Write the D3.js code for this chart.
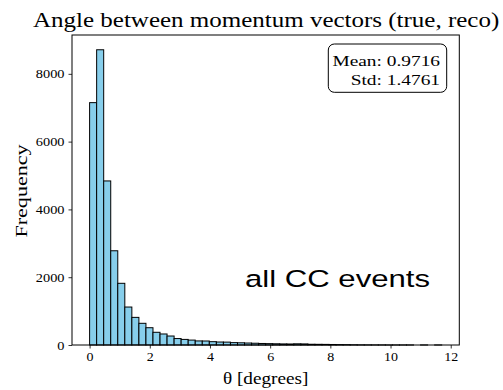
<!DOCTYPE html>
<html>
<head>
<meta charset="utf-8">
<script src="https://cdn.jsdelivr.net/npm/d3@7"></script>
<style>
  body { margin: 0; background: #fff; }
  svg { display: block; }
  .serif { font-family: "Liberation Serif", "DejaVu Serif", serif; }
</style>
</head>
<body>
<svg id="chart" width="503" height="390"></svg>
<script>
// ---- data ----
const binStart = 0;
const binEnd = 11.7;
const counts = [
  7150, 8710, 4840, 2780, 1820, 1120, 815, 640, 510, 375,
  325, 265, 190, 165, 145, 120, 118, 98, 88, 85,
  70, 65, 58, 52, 45, 40, 36, 32, 30, 35,
  32, 22, 20, 18, 15, 12, 10, 6, 4, 3,
  2, 2, 1, 1, 1, 1, 0, 1, 0, 1
];
const xTicks = [0, 2, 4, 6, 8, 10, 12];
const yTicks = [0, 2000, 4000, 6000, 8000];
const titleText = "Angle between momentum vectors (true, reco)";
const xLabel = "θ [degrees]";
const yLabel = "Frequency";
const statsLines = ["Mean: 0.9716", "Std: 1.4761"];
const annotation = "all CC events";

// ---- layout ----
const svg = d3.select("#chart");
const mL = 72, mR = 459.3, mT = 35, mB = 345;
const SX = 1.25; // horizontal stretch of text in the reference picture
const nb = counts.length;
const bw = (binEnd - binStart) / nb;
const bins = counts.map((c, i) => ({ x0: binStart + i * bw, x1: binStart + (i + 1) * bw, c }));

const span = binEnd - binStart;
const x = d3.scaleLinear().domain([binStart - 0.05 * span, binEnd + 0.05 * span]).range([mL, mR]);
const ymax = d3.max(counts) * 1.05;
const y = d3.scaleLinear().domain([0, ymax]).range([mB, mT]);

// bars
svg.append("g").selectAll("rect").data(bins).join("rect")
  .attr("x", d => x(d.x0))
  .attr("y", d => y(d.c))
  .attr("width", d => x(d.x1) - x(d.x0))
  .attr("height", d => y(0) - y(d.c))
  .attr("fill", "#87CEEB")
  .attr("stroke", "#000")
  .attr("stroke-width", 1);

// axes
const xAxis = svg.append("g").attr("transform", `translate(0,${mB})`)
  .call(d3.axisBottom(x).tickValues(xTicks).tickSize(3.5).tickPadding(4).tickFormat(d3.format("d")));
const yAxis = svg.append("g").attr("transform", `translate(${mL},0)`)
  .call(d3.axisLeft(y).tickValues(yTicks).tickSize(3.5).tickPadding(4).tickFormat(d3.format("d")));
[xAxis, yAxis].forEach(g => {
  g.select(".domain").remove();
  g.selectAll("line").attr("stroke", "#000").attr("stroke-width", 0.8);
  g.selectAll("text").attr("class", "serif").attr("font-size", 12.5).attr("fill", "#000");
});
// stretch tick labels horizontally like the reference
xAxis.selectAll(".tick text").attr("transform", "scale(1.12,1)")
  .attr("x", 0);
yAxis.selectAll(".tick text").each(function() {
  const t = d3.select(this);
  const xx = +t.attr("x");
  t.attr("x", null).attr("transform", `translate(${xx},0) scale(1.15,1)`);
});

// frame
svg.append("rect").attr("x", mL).attr("y", mT)
  .attr("width", mR - mL).attr("height", mB - mT)
  .attr("fill", "none").attr("stroke", "#000").attr("stroke-width", 1);

// title
svg.append("text").attr("class", "serif")
  .attr("transform", `translate(${(mL + mR) / 2 + 0.5},26.7) scale(${SX},1)`)
  .attr("text-anchor", "middle").attr("font-size", 20)
  .text(titleText);

// axis labels
svg.append("text").attr("class", "serif")
  .attr("transform", `translate(${(mL + mR) / 2},384) scale(1.2,1)`)
  .attr("text-anchor", "middle").attr("font-size", 16)
  .text(xLabel);
svg.append("text").attr("class", "serif")
  .attr("transform", `translate(27,${(mT + mB) / 2 + 1}) rotate(-90) scale(1.3,1)`)
  .attr("text-anchor", "middle").attr("font-size", 17)
  .text(yLabel);

// stats box
svg.append("rect").attr("x", 328.3).attr("y", 44)
  .attr("width", 118.4).attr("height", 48.3).attr("rx", 6)
  .attr("fill", "#fff").attr("stroke", "#000").attr("stroke-width", 1);
statsLines.forEach((s, i) => {
  svg.append("text").attr("class", "serif")
    .attr("transform", `translate(440,${65.7 + i * 19.5}) scale(${SX},1)`)
    .attr("text-anchor", "end").attr("font-size", 15.5)
    .text(s);
});

// annotation
svg.append("text")
  .attr("transform", `translate(245,286.7) scale(1.27,1)`)
  .attr("font-family", "Liberation Sans, Arial, sans-serif")
  .attr("font-size", 24.5)
  .text(annotation);
</script>
</body>
</html>
